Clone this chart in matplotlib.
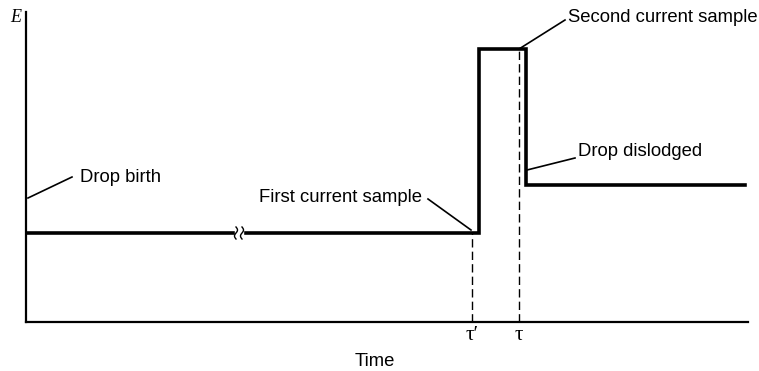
import numpy as np
import matplotlib.pyplot as plt

# waveform (time in arbitrary units, potential in arbitrary units)
t_wave = [0, 453, 453, 500, 500, 719]
e_wave = [89, 89, 273, 273, 137, 137]

# current sampling times
tau_prime = 446
tau = 493
BREAK_T = 213

LABELS = ["Drop birth", "First current sample", "Second current sample", "Drop dislodged"]


def main():
    plt.rcParams['font.family'] = ['Liberation Sans', 'DejaVu Sans']
    fig = plt.figure(figsize=(7.59, 3.71), dpi=100)
    ax = fig.add_axes([26 / 759, 49 / 371, 722 / 759, 310 / 371])
    ax.set_xlim(0, 722)
    ax.set_ylim(0, 310)
    for s in ["top", "right"]:
        ax.spines[s].set_visible(False)
    for s in ["left", "bottom"]:
        ax.spines[s].set_linewidth(1.6)
    ax.set_xticks([])
    ax.set_yticks([])

    ax.plot(t_wave, e_wave, color="black", lw=2.6, solid_joinstyle="miter")

    # sampling markers
    ax.plot([tau_prime, tau_prime], [0, e_wave[0]], color="black", lw=1.0, ls=(0, (6, 3)))
    ax.plot([tau, tau], [0, e_wave[2]], color="black", lw=1.0, ls=(0, (6, 3)))

    # axis break on the baseline
    ax.fill_between([BREAK_T - 4, BREAK_T + 4], e_wave[0] - 3, e_wave[0] + 3, color="white", zorder=3)
    s = np.linspace(-1, 1, 30)
    for dx in (-3, 3):
        ax.plot(BREAK_T + dx + 1.5 * np.sin(np.pi * s), e_wave[0] + 6 * s, color="black", lw=1.0, zorder=4)

    fs = 13.3
    lk = dict(color="black", lw=1.2, clip_on=False)
    # Drop birth
    ax.plot([2, 46], [124, 145], **lk)
    ax.text(54, 145, LABELS[0], fontsize=fs, ha="left", va="center")
    # First current sample
    ax.plot([402, 445], [123, 92], **lk)
    ax.text(396, 124, LABELS[1], fontsize=fs, ha="right", va="center")
    # Second current sample
    ax.plot([539, 493], [302, 273], **lk)
    ax.text(542, 304, LABELS[2], fontsize=fs, ha="left", va="center")
    # Drop dislodged
    ax.plot([549, 501], [164, 152], **lk)
    ax.text(552, 170, LABELS[3], fontsize=fs, ha="left", va="center")

    ax.text(-16, 304, "E", fontsize=13, family="Liberation Serif", style="italic", ha="left", va="center")
    ax.text(tau_prime, -13, "τ′", fontsize=15, family=["Liberation Serif", "DejaVu Serif"],
            ha="center", va="center")
    ax.text(tau, -13, "τ", fontsize=15, family="Liberation Serif", ha="center", va="center")
    ax.text(349, -39, "Time", fontsize=fs, ha="center", va="center")

    fig.savefig("out.png", dpi=100)


if __name__ == "__main__":
    main()
